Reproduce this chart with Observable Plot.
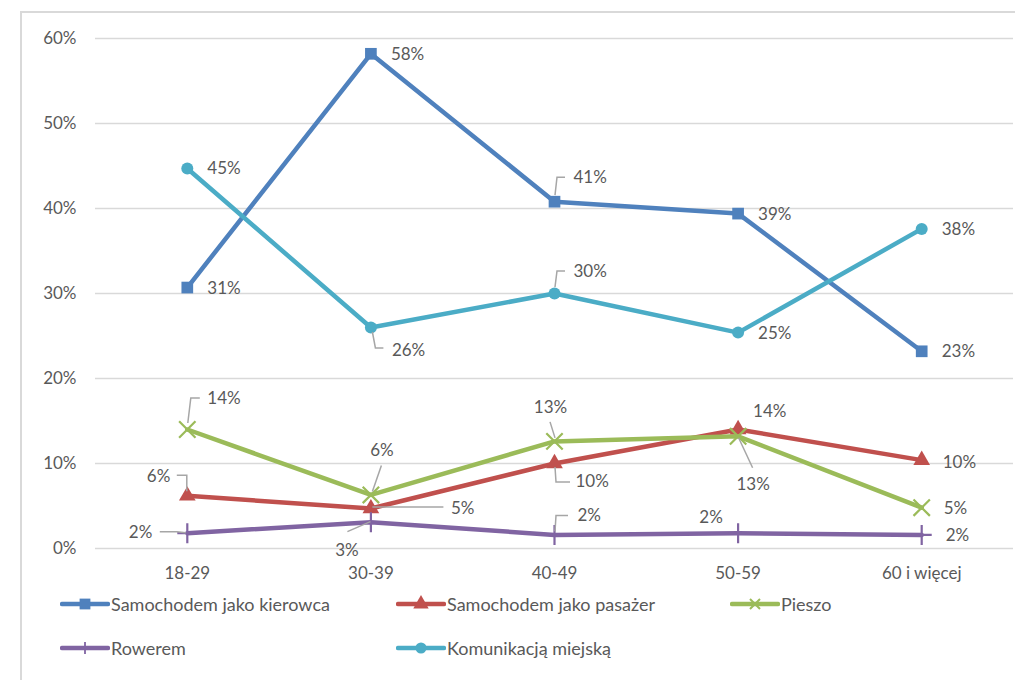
<!DOCTYPE html>
<html>
<head>
<meta charset="utf-8">
<script src="https://cdn.jsdelivr.net/npm/d3@7"></script>
<script src="https://cdn.jsdelivr.net/npm/@observablehq/plot@0.6"></script>
<style>
  html, body { margin: 0; padding: 0; background: #fff; }
  body { width: 1015px; height: 680px; position: relative; overflow: hidden; font-family: Lato, "Noto Sans", sans-serif; }
  #frame { position: absolute; left: 20px; top: 11px; width: 1100px; height: 800px; border: 2px solid #d9d9d9; box-sizing: border-box; }
  #chart { position: absolute; left: 0; top: 0; }
  .leg { position: absolute; display: flex; align-items: center; font-size: 18px; color: #595959; white-space: nowrap; }
  .leg svg { display: block; margin-right: 1px; }
</style>
</head>
<body>
<div id="frame"></div>
<div id="chart"></div>
<div id="legend"></div>
<script>
// ---- data ----
const categories = ["18-29", "30-39", "40-49", "50-59", "60 i więcej"];
const yTicks = [0, 0.1, 0.2, 0.3, 0.4, 0.5, 0.6];
const seriesNames = ["Samochodem jako kierowca", "Samochodem jako pasażer", "Pieszo", "Rowerem", "Komunikacją miejską"];
const kierowca    = [0.307, 0.582, 0.408, 0.394, 0.232];
const pasazer     = [0.062, 0.047, 0.100, 0.140, 0.104];
const pieszo      = [0.140, 0.063, 0.126, 0.132, 0.048];
const rowerem     = [0.018, 0.031, 0.016, 0.018, 0.016];
const komunikacja = [0.447, 0.260, 0.300, 0.254, 0.376];

// ---- styles / layout (not data) ----
const seriesStyle = [
  {values: kierowca,    color: "#4F81BD", symbol: "square",   r: 6.6, stroke: false},
  {values: pasazer,     color: "#C0504D", symbol: "triangle", r: 6.2, stroke: false},
  {values: pieszo,      color: "#9BBB59", symbol: "times",    r: 7.5, stroke: true},
  {values: rowerem,     color: "#8064A2", symbol: "plus",     r: 6.5, stroke: true},
  {values: komunikacja, color: "#4BACC6", symbol: "circle",   r: 6,   stroke: false}
];
// label offsets in pixels [dx, dy, anchor] per series, per category
const labelLayout = [
  [[20,1,"start"],[20,1,"start"],[19,-24,"start"],[20,1,"start"],[20,0,"start"]],
  [[-17,-19,"end"],[80,0,"start"],[21,18,"start"],[15,-18,"start"],[21,2,"start"]],
  [[20,-31,"start"],[11,-44,"middle"],[-4,-34,"middle"],[15,48,"middle"],[22,1,"start"]],
  [[-35,-1,"end"],[-24,28,"middle"],[23,-19,"start"],[-27,-16,"middle"],[24,1,"start"]],
  [[20,0,"start"],[21,23,"start"],[19,-22,"start"],[20,1,"start"],[20,1,"start"]]
];
// leader lines, pixel offsets from the marker: [seriesIndex, categoryIndex, points]
const leaders = [
  [0, 2, [[1,-6],[3,-24],[11,-24]]],
  [4, 1, [[2,5],[5,21],[13,21]]],
  [4, 2, [[1,-6],[3,-22],[11,-22]]],
  [2, 0, [[1,-6],[4,-31],[13,-31]]],
  [2, 1, [[2,-3],[11,-29]]],
  [2, 2, [[-4,-19],[1,-3]]],
  [2, 3, [[1,2],[15,32]]],
  [1, 0, [[0,-4],[0,-20],[-10,-20]]],
  [1, 1, [[2,-1],[73,-1]]],
  [1, 2, [[1,4],[2,19],[16,19]]],
  [3, 0, [[-27,-1],[-10,-1],[-1,0]]],
  [3, 1, [[-23,10],[0,0]]],
  [3, 2, [[1,-3],[2,-19],[14,-19]]]
];

const fmt = v => Math.round(v * 100) + "%";
const rows = s => s.values.map((v, i) => ({i, v}));

const marks = [
  Plot.gridY({ticks: yTicks, stroke: "#d9d9d9", strokeOpacity: 1, strokeWidth: 1.5}),
  Plot.axisY({ticks: yTicks, tickFormat: fmt, tickSize: 0, tickPadding: 19, label: null}),
  Plot.axisX({ticks: [0,1,2,3,4], tickFormat: i => categories[i], tickSize: 0, tickPadding: 18, label: null})
];
seriesStyle.forEach(s => {
  marks.push(Plot.line(rows(s), {x: "i", y: "v", stroke: s.color, strokeWidth: 4.5}));
});
seriesStyle.forEach(s => {
  if (s.stroke) marks.push(Plot.dot(rows(s), {x: "i", y: "v", symbol: s.symbol, r: s.r, stroke: s.color, strokeWidth: 2.2}));
  else marks.push(Plot.dot(rows(s), {x: "i", y: "v", symbol: s.symbol, r: s.r, fill: s.color, stroke: "none"}));
});
// leader lines
marks.push((index, scales) => {
  const g = d3.create("svg:g").attr("fill", "none").attr("stroke", "#a6a6a6").attr("stroke-width", 1.5);
  leaders.forEach(([si, ci, pts]) => {
    const x0 = scales.x(ci), y0 = scales.y(seriesStyle[si].values[ci]);
    g.append("path").attr("d", "M" + pts.map(([dx, dy]) => (x0 + dx) + "," + (y0 + dy)).join("L"));
  });
  return g.node();
});
// labels
seriesStyle.forEach((s, si) => {
  s.values.forEach((v, ci) => {
    const [dx, dy, anchor] = labelLayout[si][ci];
    marks.push(Plot.text([{i: ci, v}], {x: "i", y: "v", text: d => fmt(d.v), dx, dy, textAnchor: anchor, fill: "#595959", fontSize: 17}));
  });
});

const chart = Plot.plot({
  width: 1015, height: 590,
  marginLeft: 95, marginRight: 2, marginTop: 38, marginBottom: 42,
  style: {fontFamily: "Lato, 'Noto Sans', sans-serif", fontSize: "17px", color: "#595959", background: "transparent", overflow: "visible"},
  x: {type: "linear", domain: [-0.5, 4.5]},
  y: {domain: [0, 0.6]},
  marks
});
document.getElementById("chart").appendChild(chart);

// legend
const legPos = [[60, 604], [396, 604], [730, 604], [60, 648], [396, 648]];
const symMap = {square: d3.symbolSquare, triangle: d3.symbolTriangle, circle: d3.symbolCircle};
const legend = document.getElementById("legend");
seriesStyle.forEach((s, si) => {
  const item = document.createElement("div");
  item.className = "leg";
  item.style.left = legPos[si][0] + "px";
  item.style.top = (legPos[si][1] - 12) + "px";
  item.style.height = "24px";
  const svg = d3.create("svg").attr("width", 50).attr("height", 24);
  svg.append("line").attr("x1", 2).attr("x2", 48).attr("y1", 12).attr("y2", 12).attr("stroke", s.color).attr("stroke-width", 4.5).attr("stroke-linecap", "round");
  if (s.symbol === "plus") {
    svg.append("line").attr("x1", 25).attr("x2", 25).attr("y1", 6).attr("y2", 18).attr("stroke", s.color).attr("stroke-width", 1.8);
  } else if (s.symbol === "times") {
    svg.append("path").attr("d", "M20,7L30,17M30,7L20,17").attr("stroke", s.color).attr("stroke-width", 2);
  } else {
    const sym = d3.symbol(symMap[s.symbol], Math.PI * s.r * s.r * 0.85)();
    svg.append("path").attr("transform", "translate(25,12)").attr("d", sym).attr("fill", s.color);
  }
  item.appendChild(svg.node());
  const t = document.createElement("span");
  t.textContent = seriesNames[si];
  item.appendChild(t);
  legend.appendChild(item);
});
</script>
</body>
</html>
